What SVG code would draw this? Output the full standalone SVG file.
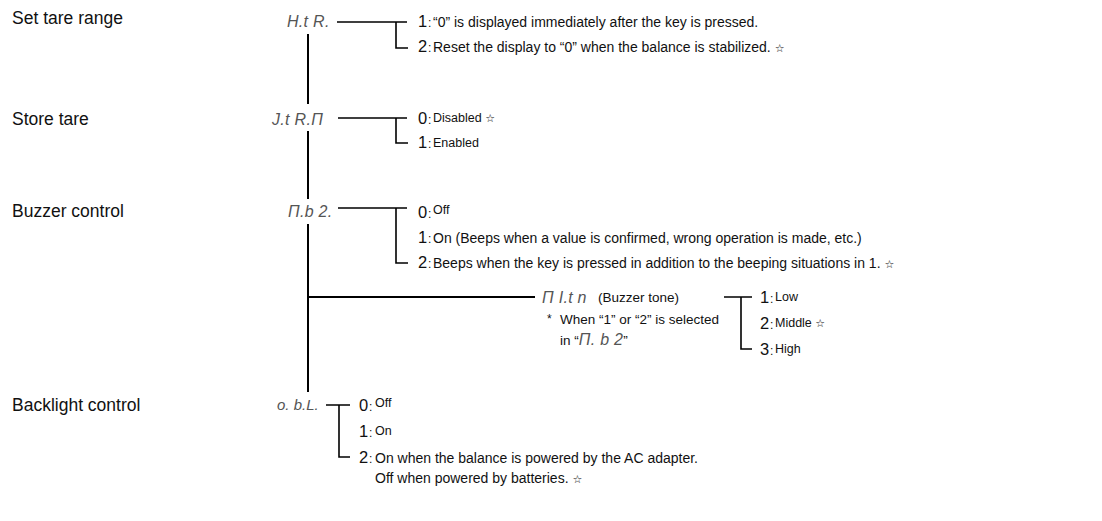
<svg xmlns="http://www.w3.org/2000/svg" width="1102" height="521" viewBox="0 0 1102 521">
<style>
.lbl{font-family:"Liberation Sans",Arial,sans-serif;font-size:17.5px;fill:#111}
.t{font-family:"Liberation Sans",Arial,sans-serif;font-size:14px;fill:#111}
.t2{font-family:"Liberation Sans",Arial,sans-serif;font-size:13.5px;fill:#111}
.d{font-family:"Liberation Sans",Arial,sans-serif;font-size:16.5px;fill:#111}
.c{font-family:"Liberation Sans",Arial,sans-serif;font-size:12px;fill:#111}
.s{font-family:"Liberation Sans",Arial,sans-serif;font-size:12.5px;fill:#111}
.seg{font-family:"Liberation Sans",Arial,sans-serif;font-size:16px;font-style:italic;fill:#555;letter-spacing:0.3px}
.seg2{font-family:"Liberation Sans",Arial,sans-serif;font-size:15px;font-style:italic;fill:#555}
.star{font-family:"DejaVu Sans",sans-serif;font-size:11px;fill:#111}
.ln{stroke:#000;stroke-width:1.6;fill:none}
.main{stroke:#000;stroke-width:2;fill:none}
</style>
<rect width="1102" height="521" fill="#fff"/>
<g id="connectors">
<path class="main" d="M308 34V104M308 131V199M308 224V392"/>
<path class="main" d="M308 297H535"/>
<path class="ln" d="M337 22H407M396 22V48H408"/>
<path class="ln" d="M338 118H407M396 118V143H408"/>
<path class="ln" d="M338 208H407M396 208V263H408"/>
<path class="ln" d="M724 297H752M741 297V349H752"/>
<path class="ln" d="M326 405H350M339 405V457H350"/>
</g>
<g id="set-tare-range">
<text class="lbl" x="12" y="24">Set tare range</text>
<text class="seg" x="287" y="27">H.t R.</text>
<text x="418" y="27"><tspan class="d">1</tspan><tspan class="c" x="428">:</tspan><tspan class="t" x="433">“0” is displayed immediately after the key is pressed.</tspan></text>
<text x="418" y="52"><tspan class="d">2</tspan><tspan class="c" x="428">:</tspan><tspan class="t" x="433">Reset the display to “0” when the balance is stabilized. </tspan><tspan class="star">☆</tspan></text>
</g>
<g id="store-tare">
<text class="lbl" x="12" y="125">Store tare</text>
<text class="seg" x="272" y="125">J.t R.П</text>
<text x="418" y="124"><tspan class="d">0</tspan><tspan class="c" x="428">:</tspan><tspan class="s" x="433" dy="-2">Disabled </tspan><tspan class="star">☆</tspan></text>
<text x="418" y="148"><tspan class="d">1</tspan><tspan class="c" x="428">:</tspan><tspan class="s" x="433" dy="-1">Enabled</tspan></text>
</g>
<g id="buzzer-control">
<text class="lbl" x="12" y="217">Buzzer control</text>
<text class="seg" x="288" y="217">П.b 2.</text>
<text x="418" y="218"><tspan class="d">0</tspan><tspan class="c" x="428">:</tspan><tspan class="s" x="433" dy="-4">Off</tspan></text>
<text x="418" y="243"><tspan class="d">1</tspan><tspan class="c" x="428">:</tspan><tspan class="t" x="433">On (Beeps when a value is confirmed, wrong operation is made, etc.)</tspan></text>
<text x="418" y="268"><tspan class="d">2</tspan><tspan class="c" x="428">:</tspan><tspan class="t" x="433">Beeps when the key is pressed in addition to the beeping situations in 1. </tspan><tspan class="star">☆</tspan></text>
</g>
<g id="buzzer-tone">
<text class="seg" x="542" y="303">П I.t n</text>
<text class="t2" x="598" y="302">(Buzzer tone)</text>
<text class="c" x="547" y="323">*</text>
<text class="t2" x="560" y="324">When “1” or “2” is selected</text>
<text x="560" y="345"><tspan class="t2">in “</tspan><tspan class="seg">П. b 2</tspan><tspan class="t2">”</tspan></text>
</g>
<g id="buzzer-tone-options">
<text x="760" y="303"><tspan class="d">1</tspan><tspan class="c" x="770">:</tspan><tspan class="s" x="775" dy="-2">Low</tspan></text>
<text x="760" y="329"><tspan class="d">2</tspan><tspan class="c" x="770">:</tspan><tspan class="s" x="775" dy="-2">Middle </tspan><tspan class="star">☆</tspan></text>
<text x="760" y="355"><tspan class="d">3</tspan><tspan class="c" x="770">:</tspan><tspan class="s" x="775" dy="-2">High</tspan></text>
</g>
<g id="backlight-control">
<text class="lbl" x="12" y="411">Backlight control</text>
<text class="seg2" x="277" y="410">o. b.L.</text>
<text x="359" y="411"><tspan class="d">0</tspan><tspan class="c" x="369">:</tspan><tspan class="s" x="375" dy="-4">Off</tspan></text>
<text x="359" y="437"><tspan class="d">1</tspan><tspan class="c" x="369">:</tspan><tspan class="s" x="375" dy="-2">On</tspan></text>
<text x="359" y="463"><tspan class="d">2</tspan><tspan class="c" x="369">:</tspan><tspan class="t" x="375">On when the balance is powered by the AC adapter.</tspan></text>
<text x="375" y="483"><tspan class="t">Off when powered by batteries. </tspan><tspan class="star">☆</tspan></text>
</g>
</svg>
